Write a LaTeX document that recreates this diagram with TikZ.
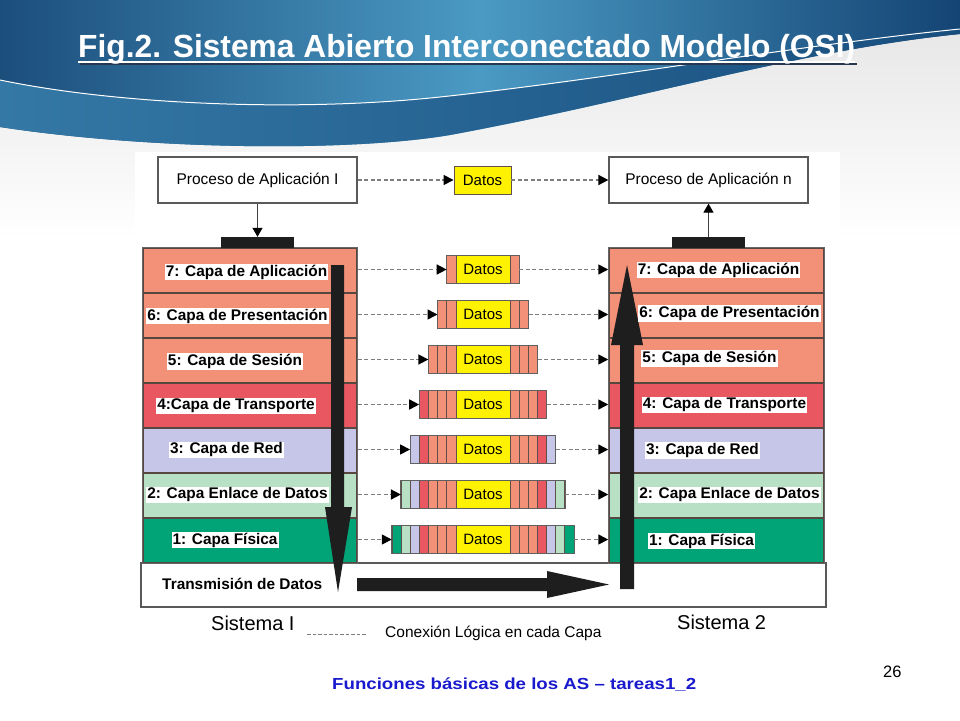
\documentclass[tikz,border=0pt]{standalone}
\usepackage{fontspec}
\setmainfont{Liberation Sans}
\usepackage{graphicx}
\usetikzlibrary{arrows.meta}
\definecolor{salmon}{RGB}{242,145,120}
\definecolor{tred}{RGB}{233,88,97}
\definecolor{lav}{RGB}{198,198,232}
\definecolor{lgreen}{RGB}{184,224,196}
\definecolor{dgreen}{RGB}{0,164,118}
\definecolor{ylw}{RGB}{255,242,0}
\definecolor{sepC}{RGB}{88,70,64}
\definecolor{stripE}{RGB}{96,80,74}
\definecolor{dashgray}{RGB}{125,125,125}
\definecolor{barC}{RGB}{30,30,30}
\definecolor{bgGray}{RGB}{228,228,228}
\definecolor{hdL}{RGB}{28,78,124}
\definecolor{hdM}{RGB}{74,154,196}
\definecolor{hdR}{RGB}{20,68,116}
\definecolor{bandL}{RGB}{52,120,166}
\definecolor{bandR}{RGB}{24,78,126}
\definecolor{footBlue}{RGB}{25,25,205}
\definecolor{shadowC}{RGB}{40,55,80}
\colorlet{lay7}{salmon}\colorlet{lay6}{salmon}\colorlet{lay5}{salmon}
\colorlet{lay4}{tred}\colorlet{lay3}{lav}\colorlet{lay2}{lgreen}\colorlet{lay1}{dgreen}
\newcommand\mytitletext{\resizebox{777pt}{\height}{\bfseries\fontsize{32}{34}\selectfont Fig.2. Sistema Abierto Interconectado Modelo (OSI)}}
\begin{document}
\begin{tikzpicture}[x=1pt,y=-1pt,
  layer/.style={draw=sepC, line width=1.5pt, minimum width=214, minimum height=45, inner sep=0},
  lbl/.style={fill=white, inner sep=1pt, font=\bfseries\fontsize{15.4}{17}\selectfont},
  datos/.style={fill=ylw, draw=stripE, line width=0.9pt, minimum width=54, minimum height=28, inner sep=0, font=\fontsize{15}{17}\selectfont},
  procbox/.style={draw=gray!70!black, fill=white, line width=1.2pt, minimum width=199, minimum height=46, inner sep=0, font=\fontsize{15.5}{17}\selectfont},
  dasharr/.style={dashgray, line width=1.6pt, dash pattern=on 4pt off 2.5pt, -{Triangle[length=10pt,width=10pt,color=black]}},
  thinarr/.style={black!75, line width=1.2pt, -{Triangle[length=9pt,width=10pt,color=black]}},
  blockarr/.style={fill=barC},
  bar/.style={fill=barC, minimum width=73, minimum height=11, inner sep=0}
]
\useasboundingbox (0,0) rectangle (960,720);
% background
\fill[white] (0,0) rectangle (960,720);
\shade[top color=bgGray, bottom color=white] (0,0) rectangle (960,240);
\shade[left color=hdL, right color=hdR, middle color=hdM] (0,0) -- (960,0) -- (960,34) .. controls (800,50) and (640,100) .. (450,135) .. controls (350,152) and (150,150) .. (0,127) -- cycle;
\shade[left color=bandL, right color=bandR] (960,29) .. controls (800,45) and (600,80) .. (440,97) .. controls (300,112) and (120,105) .. (0,80) -- (0,127) .. controls (150,150) and (350,152) .. (450,135) .. controls (640,100) and (800,50) .. (960,34) -- cycle;
\draw[white, line width=1pt] (960,29) .. controls (800,45) and (600,80) .. (440,97) .. controls (300,112) and (120,105) .. (0,80);
% title
\draw[shadowC, line width=2pt] (80,64) -- (857,64);
\node[anchor=base west, inner sep=0, text=white] (title) at (78,57) {\mytitletext};
\draw[white, line width=2pt] (78,62) -- (855,62);
% panel
\fill[white] (135,152) rectangle (840,650);
% transmission box
\node[draw=gray!70!black, line width=1.2pt, fill=white, minimum width=685, minimum height=44, inner sep=0] (TX) at (483.5,585) {};
% stacks
\foreach \n in {7,...,1} {
  \pgfmathsetmacro\yc{270.5+45*(7-\n)}
  \node[layer, fill=lay\n] (L\n) at (250,\yc) {};
  \node[layer, fill=lay\n, minimum width=215] (R\n) at (716.5,\yc) {};
}
\draw[gray!80!black, line width=1pt] (L7.north west) rectangle (L1.south east);
\draw[gray!80!black, line width=1pt] (R7.north west) rectangle (R1.south east);
% process boxes and bars
\node[procbox] (PI) at (257.5,180) {Proceso de Aplicación I};
\node[procbox] (PN) at (708.5,180) {Proceso de Aplicación n};
\node[datos, minimum width=57] (D0) at (482.5,180) {Datos};
\draw[dasharr] (PI) -- (D0);
\draw[dasharr] (D0) -- (PN);
\node[bar] (BL) at (257.5,242.5) {};
\node[bar] (BR) at (708.5,242.5) {};
\draw[thinarr] (PI.south) -- (BL.north);
\draw[thinarr] (BR.north) -- (PN.south);
% packets
\foreach \n in {7,...,1} {
  \pgfmathsetmacro\yp{269.5+45*(7-\n)}
  \pgfmathtruncatemacro\k{8-\n}
  \pgfmathsetmacro\pw{54+2*\k*9.15}
  \node[minimum width=\pw, minimum height=28, inner sep=0] (P\n) at (483,\yp) {};
  \foreach \i in {1,...,\k} {
    \pgfmathtruncatemacro\c{8-\i}
    \pgfmathsetmacro\xa{456-\i*9.15}
    \pgfmathsetmacro\xb{456-(\i-1)*9.15}
    \pgfmathsetmacro\xc{510+(\i-1)*9.15}
    \pgfmathsetmacro\xd{510+\i*9.15}
    \draw[fill=lay\c, draw=stripE, line width=0.9pt] (\xa,\yp-14) rectangle (\xb,\yp+14);
    \draw[fill=lay\c, draw=stripE, line width=0.9pt] (\xc,\yp-14) rectangle (\xd,\yp+14);
  }
  \node[datos] (D\n) at (483,\yp) {Datos};
  \draw[gray!75!black, line width=1pt] (P\n.north west) rectangle (P\n.south east);
  \draw[dasharr] (L\n.east |- P\n.west) -- (P\n.west);
  \draw[dasharr] (P\n.east) -- (R\n.west |- P\n.east);
}
% block arrows
\fill[blockarr] (331,265) -- (344,265) -- (344,507) -- (352,507) -- (338,592) -- (325,507) -- (331,507) -- cycle;
\fill[blockarr] (620,589) -- (634,589) -- (634,345) -- (643,345) -- (627,265) -- (611,345) -- (620,345) -- cycle;
\fill[blockarr] (357,578) -- (547,578) -- (547,571) -- (609,584.5) -- (547,598) -- (547,591) -- (357,591) -- cycle;
% left labels
\node[lbl] (l7) at (246.5,272) {7: Capa de Aplicación};
\node[lbl] (l6) at (237.5,316) {6: Capa de Presentación};
\node[lbl] (l5) at (235,361.5) {5: Capa de Sesión};
\node[lbl] (l4) at (236,406) {4:Capa de Transporte};
\node[lbl] (l3) at (226.5,450) {3: Capa de Red};
\node[lbl] (l2) at (237.5,495) {2: Capa Enlace de Datos};
\node[lbl] (l1) at (225,540) {1: Capa Física};
% right labels
\node[lbl] (r7) at (718.5,270) {7: Capa de Aplicación};
\node[lbl] (r6) at (729.5,313.5) {6: Capa de Presentación};
\node[lbl] (r5) at (709.5,358.5) {5: Capa de Sesión};
\node[lbl] (r4) at (724.5,405) {4: Capa de Transporte};
\node[lbl] (r3) at (702.5,450.5) {3: Capa de Red};
\node[lbl] (r2) at (729.5,495) {2: Capa Enlace de Datos};
\node[lbl] (r1) at (701.5,541) {1: Capa Física};
\node[lbl, fill=none, anchor=base west, inner sep=0] (TXt) at (162,589) {Transmisión de Datos};
% legend
\node[anchor=base west, inner sep=0, font=\fontsize{20}{22}\selectfont] (S1) at (211,630) {Sistema I};
\coordinate (lgA) at (307,634);
\coordinate (lgB) at (367,634);
\draw[dashgray, line width=1pt, dash pattern=on 3.5pt off 2pt] (lgA) -- (lgB);
\node[anchor=base west, inner sep=0, font=\fontsize{15.5}{17}\selectfont] (CL) at (385,637) {Conexión Lógica en cada Capa};
\node[anchor=base west, inner sep=0, font=\fontsize{20}{22}\selectfont] (S2) at (677,629) {Sistema 2};
% footer
\node[anchor=base west, inner sep=0, text=footBlue] (FT) at (332,689) {\resizebox{364pt}{\height}{\bfseries\fontsize{16}{18}\selectfont Funciones básicas de los AS – tareas1\_2}};
\node[anchor=base west, inner sep=0, font=\fontsize{16.5}{18}\selectfont] (PG) at (883,677) {26};
\end{tikzpicture}
\end{document}
